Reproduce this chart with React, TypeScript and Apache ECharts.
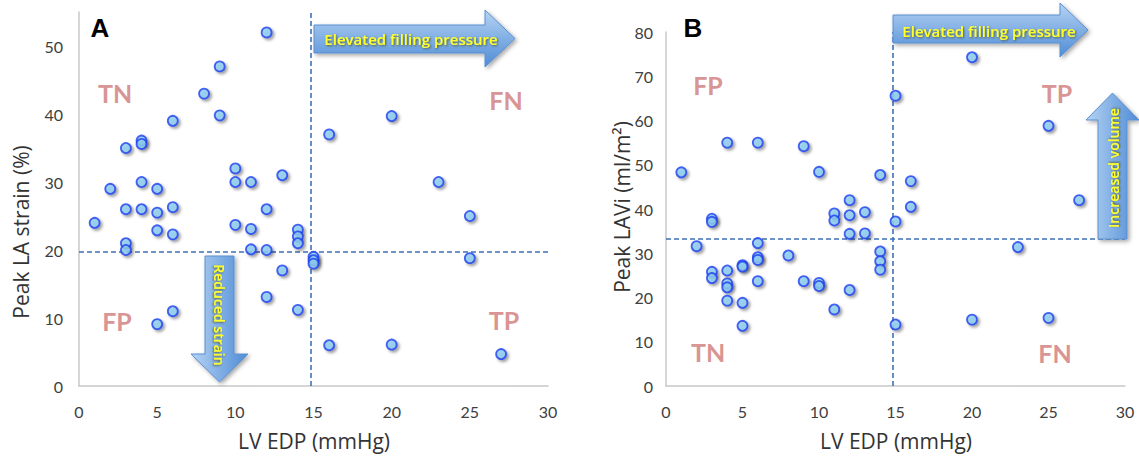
import React, { useEffect, useRef } from "react";
import * as echarts from "echarts";

// Panel A: LV EDP (mmHg) vs Peak LA strain (%)
const edpA = [12, 9, 8, 9, 6, 4, 4, 3, 10, 13, 10, 11, 4, 2, 5, 3, 4, 5, 6, 1, 5, 6, 10, 11, 12, 14, 14, 14, 3, 3, 11, 12, 15, 15, 15, 13, 12, 14, 6, 5, 16, 16, 20, 23, 25, 25, 20, 27];
const strainA = [52, 47, 43, 39.8, 39, 36.1, 35.6, 35, 32, 31, 30, 30, 30, 29, 29, 26, 26, 25.5, 26.3, 24, 22.9, 22.3, 23.7, 23.1, 26, 23, 22, 21, 21, 20, 20.1, 20, 19, 18.5, 18, 17, 13.1, 11.2, 11, 9.1, 6, 37, 39.7, 30, 25, 18.8, 6.1, 4.7];

// Panel B: LV EDP (mmHg) vs Peak LAVi (ml/m2)
const edpB = [1, 4, 6, 9, 10, 14, 15, 16, 12, 11, 11, 12, 13, 3, 3, 15, 16, 12, 13, 2, 6, 6, 6, 8, 14, 14, 14, 5, 5, 3, 3, 4, 4, 4, 6, 9, 10, 10, 12, 4, 5, 11, 5, 15, 20, 25, 27, 23, 20, 25];
const laviB = [48.3, 55, 55, 54.2, 48.4, 47.7, 65.6, 46.3, 42, 39, 37.4, 38.6, 39.3, 37.8, 37.1, 37.2, 40.5, 34.4, 34.5, 31.6, 32.3, 29.1, 28.5, 29.5, 30.4, 28.2, 26.3, 27.3, 27.0, 25.8, 24.4, 26.1, 23.2, 22.3, 23.7, 23.7, 23.3, 22.6, 21.7, 19.3, 18.8, 17.3, 13.6, 13.9, 74.3, 58.8, 42, 31.4, 15, 15.4];

// Cut-offs
const edpCut = [14.8];
const strainCut = [19.7];
const laviCut = [33.2];

const xTicks = [0, 5, 10, 15, 20, 25, 30];
const yTicksA = [0, 10, 20, 30, 40, 50];
const yTicksB = [0, 10, 20, 30, 40, 50, 60, 70, 80];

const FONT = "Lato, 'Open Sans', sans-serif";
const NAMEFONT = "'Open Sans', Lato, sans-serif";
const quadColor = "#d99594";
const arrowFillH = {
  type: "linear", x: 0, y: 0, x2: 0, y2: 1,
  colorStops: [{ offset: 0, color: "#b5d3f3" }, { offset: 1, color: "#4f8cd6" }],
};
const arrowFillV = {
  type: "linear", x: 0, y: 0, x2: 1, y2: 0,
  colorStops: [{ offset: 0, color: "#b5d3f3" }, { offset: 1, color: "#4f8cd6" }],
};

function pts(xs: number[], ys: number[]) {
  return xs.map((x, i) => [x, ys[i]]);
}

const scatterStyle = {
  color: "#8fcff2",
  borderColor: "#1d3ff0",
  borderWidth: 1.8,
  shadowBlur: 3,
  shadowColor: "rgba(0,0,0,0.45)",
  shadowOffsetX: 2,
  shadowOffsetY: 2,
};

const cutLine = {
  silent: true,
  symbol: "none",
  label: { show: false },
  lineStyle: { color: "#3f72b5", type: [5, 3], width: 1.6 },
};

export default function App() {
  const ref = useRef<HTMLDivElement>(null);
  useEffect(() => {
    const chart = echarts.init(ref.current!, null, { renderer: "svg" });
    const xAxisCommon = (gridIndex: number) => ({
      type: "value",
      gridIndex,
      min: 0,
      max: 30,
      interval: 5,
      splitLine: { show: false },
      axisTick: { show: false },
      axisLine: { show: true, lineStyle: { color: "#c8c8c8", width: 1.5 } },
      axisLabel: {
        color: "#404040", fontSize: 16, fontFamily: FONT, margin: 17,
        formatter: (v: number) => (xTicks.includes(v) ? String(v) : ""),
      },
    });
    const yText = {
      fill: "#ffff2e", font: `600 15px ${NAMEFONT}`, align: "center", verticalAlign: "middle",
      textShadowColor: "rgba(60,60,0,0.7)", textShadowBlur: 2, textShadowOffsetX: 1, textShadowOffsetY: 1,
    };
    const hText = (x: number, y: number, t: string) => ({
      type: "text", x, y, z: 20,
      style: { ...yText, text: t },
    });
    const vText = (x: number, y: number, t: string, rot: number) => ({
      type: "text", x, y, rotation: rot, z: 20,
      style: { ...yText, font: `600 14px ${NAMEFONT}`, text: t },
    });
    const quad = (x: number, y: number, t: string) => ({
      type: "text", x, y,
      style: { text: t, fill: quadColor, font: `bold 25px ${FONT}`, align: "center", verticalAlign: "middle" },
      z: 20,
    });
    const axisName = (x: number, y: number, t: string, rot: number) => ({
      type: "text", x, y, rotation: rot,
      style: { text: t, fill: "#333", font: `21px ${NAMEFONT}`, align: "center", verticalAlign: "middle" },
    });
    const arrowStroke = { stroke: "#5b8fd0", lineWidth: 1, shadowBlur: 4, shadowColor: "rgba(0,0,0,0.35)", shadowOffsetX: 2, shadowOffsetY: 2 };
    chart.setOption({
      animation: false,
      backgroundColor: "#fff",
      grid: [
        { left: 79, right: 591, top: 12, bottom: 70 },
        { left: 666, right: 14, top: 32, bottom: 70 },
      ],
      xAxis: [xAxisCommon(0), xAxisCommon(1)],
      yAxis: [
        {
          type: "value", gridIndex: 0, min: 0, max: 55, interval: 10,
          splitLine: { show: false }, axisTick: { show: false },
          axisLine: { show: true, lineStyle: { color: "#c8c8c8", width: 1.5 } },
          axisLabel: {
            color: "#404040", fontSize: 16, fontFamily: FONT, margin: 16,
            formatter: (v: number) => (yTicksA.includes(v) ? String(v) : ""),
          },
        },
        {
          type: "value", gridIndex: 1, min: 0, max: 80, interval: 10,
          splitLine: { show: false }, axisTick: { show: false },
          axisLine: { show: true, lineStyle: { color: "#c8c8c8", width: 1.5 } },
          axisLabel: {
            color: "#404040", fontSize: 16, fontFamily: FONT, margin: 13,
            formatter: (v: number) => (yTicksB.includes(v) ? String(v) : ""),
          },
        },
      ],
      series: [
        {
          type: "scatter", xAxisIndex: 0, yAxisIndex: 0, symbolSize: 10,
          data: pts(edpA, strainA), itemStyle: scatterStyle, z: 5,
          markLine: { ...cutLine, data: [{ xAxis: edpCut[0] }, { yAxis: strainCut[0] }] },
        },
        {
          type: "scatter", xAxisIndex: 1, yAxisIndex: 1, symbolSize: 10,
          data: pts(edpB, laviB), itemStyle: scatterStyle, z: 5,
          markLine: { ...cutLine, data: [{ xAxis: edpCut[0] }, { yAxis: laviCut[0] }] },
        },
      ],
      graphic: [
        // panel letters
        { type: "text", x: 100, y: 28, style: { text: "A", fill: "#000", font: "bold 26px Arial, 'Liberation Sans', sans-serif", align: "center", verticalAlign: "middle" } },
        { type: "text", x: 693, y: 28, style: { text: "B", fill: "#000", font: "bold 26px Arial, 'Liberation Sans', sans-serif", align: "center", verticalAlign: "middle" } },
        // axis names
        axisName(21, 232, "Peak LA strain (%)", Math.PI / 2),
        axisName(314, 441, "LV EDP (mmHg)", 0),
        axisName(622, 207, "Peak LAVi (ml/m²)", Math.PI / 2),
        axisName(896, 441, "LV EDP (mmHg)", 0),
        // quadrant labels A
        quad(115, 93, "TN"), quad(506, 100, "FN"), quad(117, 321, "FP"), quad(504, 320, "TP"),
        // quadrant labels B
        quad(708, 85, "FP"), quad(708, 352, "TN"), quad(1057, 93, "TP"), quad(1055, 353, "FN"),
        // arrows A
        {
          type: "polygon", z: 15,
          shape: { points: [[314, 25], [485, 25], [485, 10], [515, 38.5], [485, 67], [485, 53], [314, 53]] },
          style: { fill: arrowFillH, ...arrowStroke },
        },
        hText(411, 39, "Elevated filling pressure"),
        {
          type: "polygon", z: 15,
          shape: { points: [[205, 256], [234, 256], [234, 354], [248, 354], [219.5, 382], [191, 354], [205, 354]] },
          style: { fill: arrowFillV, ...arrowStroke },
        },
        vText(220, 315, "Reduced strain", -Math.PI / 2),
        // arrows B
        {
          type: "polygon", z: 15,
          shape: { points: [[893, 15], [1060, 15], [1060, 3], [1088, 30], [1060, 57], [1060, 43], [893, 43]] },
          style: { fill: arrowFillH, ...arrowStroke },
        },
        hText(989, 31, "Elevated filling pressure"),
        {
          type: "polygon", z: 15,
          shape: { points: [[1098, 239], [1127, 239], [1127, 120], [1139, 120], [1112.5, 93], [1086, 120], [1098, 120]] },
          style: { fill: arrowFillV, ...arrowStroke },
        },
        vText(1113, 168, "Increased volume", Math.PI / 2),
      ],
    });
    return () => chart.dispose();
  }, []);
  return (
    <div
      ref={ref}
      style={{ position: "fixed", left: 0, top: 0, width: 1139, height: 456, background: "#fff" }}
    />
  );
}
